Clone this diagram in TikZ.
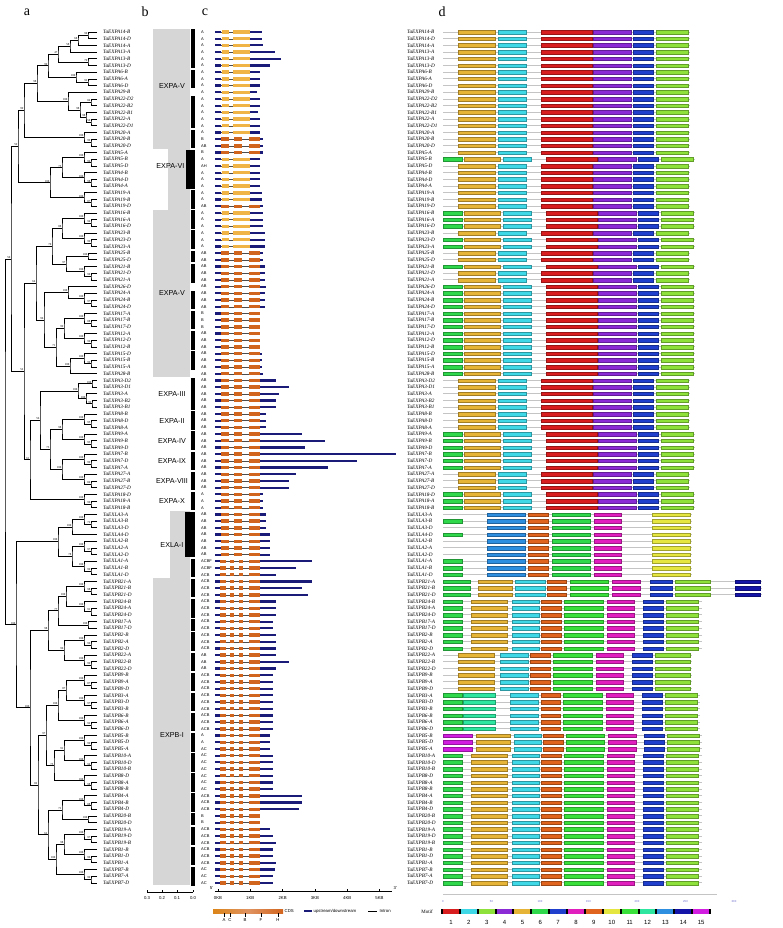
\documentclass[tikz,border=0pt]{standalone}
\usepackage{fontspec}
\setmainfont{Liberation Serif}
\setsansfont{Liberation Sans}
\usetikzlibrary{positioning, calc}
\definecolor{cone}{HTML}{D81E1E}
\definecolor{ctwo}{HTML}{3FD8E6}
\definecolor{cthree}{HTML}{8EE03A}
\definecolor{cfour}{HTML}{8A2BD6}
\definecolor{cfive}{HTML}{E6B436}
\definecolor{csix}{HTML}{2ED84A}
\definecolor{cseven}{HTML}{1F3FCC}
\definecolor{ceight}{HTML}{E01FBE}
\definecolor{cnine}{HTML}{E0641E}
\definecolor{cten}{HTML}{E6E640}
\definecolor{celeven}{HTML}{3AE03A}
\definecolor{ctwelve}{HTML}{2EE6A0}
\definecolor{cthirteen}{HTML}{2E8EE0}
\definecolor{cfourteen}{HTML}{1414A8}
\definecolor{cfifteen}{HTML}{D21EE0}
\definecolor{cdsgold}{HTML}{F0B446}
\definecolor{cdsorange}{HTML}{D2651E}
\definecolor{utrnavy}{HTML}{1A1A78}
\definecolor{groupgray}{HTML}{D6D6D6}
\definecolor{linegray}{HTML}{C4C4C4}
\definecolor{axisblue}{HTML}{6060C8}

\newcommand{\rowy}[1]{32+(#1-1)*6.7}
% clade: name, x, upper child, lower child, support
\newcommand{\clade}[5]{%
  \coordinate (tmp) at ($(#3)!0.5!(#4)$);
  \coordinate (#1) at (#2,0 |- tmp);
  \draw[branch] (#3) -| (#1) |- (#4);
  \node[boot, above left] at (#1) {#5};}

% gene structure templates (KB): colour/start/end
\def\gsa{cdsgold/0.12/0.33,cdsgold/0.47/1.0}
\def\gsea{1.0}
\def\gso{cdsorange/0.10/0.35,cdsorange/0.50/0.75,cdsorange/0.95/1.30}
\def\gseo{1.30}
\def\gsb{cdsorange/0.05/0.25,cdsorange/0.38/0.48,cdsorange/0.65/0.78,cdsorange/0.95/1.30}
\def\gseb{1.30}
% motif templates (px): colour/start/end
\def\tpla{cfive/458/495,ctwo/498/526,cone/541/592,cfour/593/631,cseven/633/653,cthree/656/688}
\def\enda{690}
\def\tplg{csix/443/462,cfive/464/500,ctwo/503/531,cone/546/597,cfour/598/636,cseven/638/658,cthree/661/693}
\def\endg{695}
\def\tpll{cthirteen/487/525,cnine/528/548,csix/552/590,ceight/594/621,cten/652/690}
\def\endl{692}
\def\tplm{csix/443/462,cthirteen/487/525,cnine/528/548,csix/552/590,ceight/594/621,cten/652/690}
\def\endm{692}
\def\tplb{csix/443/462,cfive/471/507,ctwo/512/539,cnine/541/561,celeven/564/603,ceight/607/634,cseven/643/663,cthree/666/698}
\def\endb{702}
\def\tplc{csix/443/470,cfive/478/512,ctwo/515/545,cnine/547/566,celeven/570/608,ceight/612/640,cseven/650/672,cthree/675/710,cfourteen/735/760}
\def\endc{762}
\def\tpln{cfive/458/494,ctwo/500/528,cnine/530/550,celeven/553/592,ceight/596/623,cseven/632/652,cthree/655/690}
\def\endn{692}
\def\tplt{csix/443/462,ctwelve/463/495,ctwo/510/538,cnine/541/560,celeven/563/602,ceight/606/633,cseven/642/662,cthree/665/697}
\def\endt{700}
\def\tplp{cfifteen/443/472,cfive/476/510,ctwo/514/541,cnine/543/563,celeven/566/604,ceight/608/636,cseven/644/664,cthree/667/699}
\def\endp{702}

\begin{document}
\begin{tikzpicture}[x=1pt, y=-1pt,
    branch/.style={line width=0.75pt, black},
    boot/.style={font=\fontsize{3}{3}\selectfont, inner sep=0.4pt},
    leafname/.style={font=\fontsize{5.2}{5.2}\selectfont\itshape, inner sep=0pt, anchor=west},
    letter/.style={font=\sffamily\fontsize{4}{4}\selectfont, inner sep=0pt, anchor=west},
    panel/.style={font=\fontsize{14}{14}\selectfont},
    grouplabel/.style={font=\sffamily\fontsize{7.2}{7.2}\selectfont, inner sep=0pt},
    groupbox/.style={fill=groupgray},
    famBar/.style={fill=black},
    intron/.style={line width=0.3pt, black!70},
    utr/.style={fill=utrnavy},
    motifline/.style={line width=0.9pt, linegray},
    ticklabel/.style={font=\sffamily\fontsize{4.3}{4.3}\selectfont, inner sep=0.5pt},
]
\useasboundingbox (0,0) rectangle (783,928);

\node[panel] (pa) at (27,12) {a};
\node[panel] (pb) at (145,12) {b};
\node[panel] (pc) at (205,12) {c};
\node[panel] (pd) at (442,12) {d};

% leaves
\foreach \i in {1,...,128} \coordinate (L\i) at (97,{\rowy{\i}});

% ---- tree, EXPA-V (top)
\clade{n1}{88}{L1}{L2}{90}
\clade{n2}{78}{n1}{L3}{68}
\clade{n3}{70}{n2}{L4}{58}
\clade{n4}{88}{L5}{L6}{79}
\clade{n5}{58}{n3}{n4}{47}
\clade{n6}{88}{L8}{L9}{92}
\clade{n7}{76}{L7}{n6}{100}
\clade{n8}{48}{n5}{n7}{99}
\clade{m1}{91}{L11}{L12}{84}
\clade{m2}{91}{L14}{L15}{50}
\clade{m3}{86}{L13}{m2}{98}
\clade{m4}{80}{m1}{m3}{98}
\clade{m5}{68}{L10}{m4}{100}
\clade{n9}{37}{n8}{m5}{98}
% triads: leaf + pair
\foreach \r/\ba/\bb in {16/100/99,19/100/96,22/100/98,25/100/87,28/100/94,31/100/99,36/100/90,40/100/97,43/100/88,46/100/96,49/100/99,58/100/95,61/100/93,64/100/99,67/100/84,70/100/96,73/100/72,77/100/97,80/100/99,83/100/98,86/100/91,91/100/96,94/100/99,97/100/87,100/100/97,103/100/92,106/100/99,109/100/94,112/100/98,115/100/88,120/100/97,123/100/96,126/100/99}{
  \pgfmathtruncatemacro\s{\r+1}
  \pgfmathtruncatemacro\t{\r+2}
  \clade{P\r}{91}{L\s}{L\t}{\bb}
  \clade{F\r}{84}{L\r}{P\r}{\ba}
}
\clade{F34}{88}{L34}{L35}{100}
\clade{F89}{88}{L89}{L90}{100}
\clade{F118}{88}{L118}{L119}{100}
\clade{n10}{24}{n9}{F16}{99}
% EXPA-VI
\clade{v1}{62}{F19}{F22}{75}
\clade{v2}{50}{v1}{F25}{100}
% EXPA-V (lower)
\clade{c1}{62}{F28}{F31}{88}
\clade{c2}{66}{F34}{F36}{97}
\clade{c3}{52}{c1}{c2}{70}
\clade{c4}{68}{L39}{F40}{100}
\clade{c5}{64}{F43}{F46}{99}
\clade{c6}{70}{F49}{L52}{100}
\clade{c7}{56}{c5}{c6}{71}
\clade{c8}{44}{c4}{c7}{96}
\clade{c9}{36}{c3}{c8}{64}
% EXPA-III ... EXPA-X
\clade{e1}{92}{L53}{L54}{100}
\clade{e2}{92}{L56}{L57}{99}
\clade{e3}{86}{L55}{e2}{100}
\clade{F53}{78}{e1}{e3}{100}
\clade{d1}{62}{F58}{F61}{98}
\clade{d2}{62}{F64}{F67}{100}
\clade{d3}{50}{d1}{d2}{73}
\clade{d4}{40}{F53}{d3}{56}
\clade{d5}{30}{d4}{F70}{61}
\clade{x1}{18}{n10}{v2}{59}
\clade{x2}{24}{c9}{d5}{52}
\clade{x3}{11}{x1}{x2}{50}
% EXLA
\clade{l1}{72}{F73}{L76}{100}
\clade{l2}{72}{F77}{F80}{78}
\clade{l3}{58}{l1}{l2}{100}
% EXPB
\clade{b1}{66}{F83}{F86}{100}
\clade{b2}{58}{b1}{F89}{77}
\clade{b3}{64}{F91}{F94}{96}
\clade{b4}{48}{b2}{b3}{98}
\clade{b5}{66}{F97}{F100}{87}
\clade{b6}{58}{b5}{F103}{100}
\clade{b7}{64}{F106}{F109}{91}
\clade{b8}{54}{b7}{F112}{75}
\clade{b9}{46}{b6}{b8}{97}
\clade{b10}{62}{F115}{F118}{71}
\clade{b11}{64}{F120}{F123}{98}
\clade{b12}{56}{b11}{F126}{100}
\clade{b13}{48}{b10}{b12}{62}
\clade{b14}{38}{b9}{b13}{82}
\clade{b15}{30}{b4}{b14}{100}
\clade{r2}{16}{l3}{b15}{100}
\clade{root}{5}{x3}{r2}{}

% ---- column b: groups
\fill[groupbox] (153,{\rowy{1}-3.4}) rectangle (190,{\rowy{18}+3.4});
\fill[groupbox] (168,{\rowy{19}-3.4}) rectangle (190,{\rowy{27}+3.4});
\fill[groupbox] (153,{\rowy{28}-3.4}) rectangle (190,{\rowy{52}+3.4});
\fill[groupbox] (170,{\rowy{73}-3.4}) rectangle (190,{\rowy{82}+3.4});
\fill[groupbox] (153,{\rowy{83}-3.4}) rectangle (190,885);
\node[grouplabel] (g1) at (172,{\rowy{9}}) {EXPA-V};
\node[grouplabel, anchor=east] (g2) at (184.5,{\rowy{21}}) {EXPA-VI};
\node[grouplabel] (g3) at (172,{\rowy{40}}) {EXPA-V};
\node[grouplabel] (g4) at (172,{\rowy{55}}) {EXPA-III};
\node[grouplabel] (g5) at (172,{\rowy{59}}) {EXPA-II};
\node[grouplabel] (g6) at (172,{\rowy{62}}) {EXPA-IV};
\node[grouplabel] (g7) at (172,{\rowy{65}}) {EXPA-IX};
\node[grouplabel] (g8) at (172,{\rowy{68}}) {EXPA-VIII};
\node[grouplabel] (g9) at (172,{\rowy{71}}) {EXPA-X};
\node[grouplabel, anchor=east] (g10) at (183.5,{\rowy{77.5}}) {EXLA-I};
\node[grouplabel] (g11) at (172,{\rowy{106}}) {EXPB-I};
\foreach \f/\l in {1/6,7/9,11/15,16/18,19/21,22/24,25/27,28/30,31/33,34/35,36/38,40/42,43/45,46/48,49/51,53/57,58/60,61/63,64/66,67/69,70/72,73/75,77/79,80/82,83/85,86/88,89/90,91/93,94/96,97/99,100/102,103/105,106/108,109/111,112/114,115/117,118/119,120/122,123/125,126/128}
  \fill[famBar] (191,{\rowy{\f}-2.6}) rectangle (195,{\rowy{\l}+2.6});
% wide bars
\fill[famBar] (186,{\rowy{19}-2.6}) rectangle (195,{\rowy{24}+2.6});
\fill[famBar] (185,{\rowy{73}-2.6}) rectangle (195,{\rowy{79}+2.6});

% ---- rows: names, structures, motifs
\foreach \i/\nm/\lt/\gs/\ln/\tp in {
1/TaEXPA14-B/A/a/1.35/a, 2/TaEXPA14-D/A/a/1.35/a, 3/TaEXPA14-A/A/a/1.4/a,
4/TaEXPA13-A/A/a/1.75/a, 5/TaEXPA13-B/A/a/1.95/a, 6/TaEXPA13-D/A/a/1.6/a,
7/TaEXPA6-B/A/a/1.3/a, 8/TaEXPA6-A/A/a/1.3/a, 9/TaEXPA6-D/A/a/1.3/a,
10/TaEXPA29-B/A/a/1.2/a, 11/TaEXPA22-D2/A/a/1.3/a, 12/TaEXPA22-B2/A/a/1.3/a,
13/TaEXPA22-B1/A/a/1.25/a, 14/TaEXPA22-A/A/a/1.3/a, 15/TaEXPA22-D1/A/a/1.3/a,
16/TaEXPA20-A/A/a/1.3/a, 17/TaEXPA20-B/B/o/1.4/a, 18/TaEXPA20-D/AB/o/1.4/a,
19/TaEXPA5-A/B/o/1.4/a, 20/TaEXPA5-B/A/a/1.3/g, 21/TaEXPA5-D/AH/a/1.3/a,
22/TaEXPA4-B/A/a/1.3/a, 23/TaEXPA4-D/A/a/1.3/a, 24/TaEXPA4-A/A/a/1.3/a,
25/TaEXPA19-A/A/a/1.35/a, 26/TaEXPA19-B/A/a/1.35/a, 27/TaEXPA19-D/AB/o/1.4/a,
28/TaEXPA16-B/A/a/1.4/g, 29/TaEXPA16-A/A/a/1.4/g, 30/TaEXPA16-D/A/a/1.4/g,
31/TaEXPA23-B/A/a/1.45/a, 32/TaEXPA23-D/A/a/1.45/g, 33/TaEXPA23-A/A/a/1.45/g,
34/TaEXPA25-B/AB/o/1.4/a, 35/TaEXPA25-D/AB/o/1.4/a, 36/TaEXPA21-B/AB/o/1.45/g,
37/TaEXPA21-D/AB/o/1.45/a, 38/TaEXPA21-A/AB/o/1.45/a, 39/TaEXPA26-D/AB/o/1.5/g,
40/TaEXPA24-A/AB/o/1.45/g, 41/TaEXPA24-B/AB/o/1.45/g, 42/TaEXPA24-D/AB/o/1.45/g,
43/TaEXPA17-A/B/o/1.3/g, 44/TaEXPA17-B/B/o/1.3/g, 45/TaEXPA17-D/B/o/1.3/g,
46/TaEXPA12-A/AB/o/1.3/g, 47/TaEXPA12-D/AB/o/1.3/g, 48/TaEXPA12-B/AB/o/1.3/g,
49/TaEXPA15-D/AB/o/1.35/g, 50/TaEXPA15-B/AB/o/1.35/g, 51/TaEXPA15-A/AB/o/1.35/g,
52/TaEXPA28-B/AB/o/1.4/g, 53/TaEXPA3-D2/AB/o/1.8/a, 54/TaEXPA3-D1/AB/o/2.2/a,
55/TaEXPA3-A/AB/o/1.9/a, 56/TaEXPA3-B2/AB/o/1.8/a, 57/TaEXPA3-B1/AB/o/1.8/a,
58/TaEXPA8-B/AB/o/1.5/a, 59/TaEXPA8-D/AB/o/1.5/a, 60/TaEXPA8-A/AB/o/1.5/a,
61/TaEXPA9-A/AB/o/2.6/g, 62/TaEXPA9-B/AB/o/3.3/g, 63/TaEXPA9-D/AB/o/2.7/g,
64/TaEXPA7-B/AB/o/5.5/g, 65/TaEXPA7-D/AB/o/4.3/g, 66/TaEXPA7-A/AB/o/3.4/g,
67/TaEXPA27-A/AB/o/2.4/a, 68/TaEXPA27-B/AB/o/2.2/a, 69/TaEXPA27-D/AB/o/2.2/a,
70/TaEXPA18-D/A/o/1.4/g, 71/TaEXPA18-A/A/o/1.4/g, 72/TaEXPA18-B/A/o/1.4/g,
73/TaEXLA3-A/AB/o/1.5/l, 74/TaEXLA3-B/AB/o/1.5/m, 75/TaEXLA3-D/AB/o/1.5/l,
76/TaEXLA4-D/AB/o/1.6/m, 77/TaEXLA2-B/AB/o/1.6/l, 78/TaEXLA2-A/AB/o/1.6/l,
79/TaEXLA2-D/AB/o/1.6/l, 80/TaEXLA1-A/ACBF/b/2.9/m, 81/TaEXLA1-B/ACBF/b/2.4/m,
82/TaEXLA1-D/ACB/b/1.8/m, 83/TaEXPB21-A/ACB/b/2.9/c, 84/TaEXPB21-B/ACB/b/2.6/c,
85/TaEXPB21-D/ACB/b/2.8/c, 86/TaEXPB24-B/ACB/b/1.8/b, 87/TaEXPB24-A/ACB/b/1.8/b,
88/TaEXPB24-D/ACB/b/1.8/b, 89/TaEXPB17-A/ACB/b/1.7/b, 90/TaEXPB17-D/ACB/b/1.7/b,
91/TaEXPB2-B/ACB/b/1.8/b, 92/TaEXPB2-A/ACB/b/1.8/b, 93/TaEXPB2-D/ACB/b/1.8/b,
94/TaEXPB22-A/AB/b/1.8/n, 95/TaEXPB22-B/AB/b/2.2/n, 96/TaEXPB22-D/AB/b/1.8/n,
97/TaEXPB9-B/ACB/b/1.7/n, 98/TaEXPB9-A/ACB/b/1.7/n, 99/TaEXPB9-D/ACB/b/1.7/n,
100/TaEXPB3-A/ACB/b/1.7/t, 101/TaEXPB3-D/ACB/b/1.7/t, 102/TaEXPB3-B/ACB/b/1.7/t,
103/TaEXPB6-B/ACB/b/1.7/t, 104/TaEXPB6-A/ACB/b/1.7/t, 105/TaEXPB6-D/ACB/b/1.7/t,
106/TaEXPB5-B/A/b/1.6/p, 107/TaEXPB5-D/A/b/1.6/p, 108/TaEXPB5-A/AC/b/1.6/p,
109/TaEXPB10-A/AC/b/1.7/b, 110/TaEXPB10-D/AC/b/1.7/b, 111/TaEXPB10-B/AC/b/1.7/b,
112/TaEXPB8-D/AC/b/1.7/b, 113/TaEXPB8-A/AC/b/1.7/b, 114/TaEXPB8-B/AC/b/1.7/b,
115/TaEXPB4-A/ACB/b/2.6/b, 116/TaEXPB4-B/ACB/b/2.6/b, 117/TaEXPB4-D/ACB/b/2.5/b,
118/TaEXPB20-B/B/b/1.3/b, 119/TaEXPB20-D/B/b/1.3/b, 120/TaEXPB19-A/ACB/b/1.6/b,
121/TaEXPB19-D/ACB/b/1.7/b, 122/TaEXPB19-B/ACB/b/1.8/b, 123/TaEXPB1-B/ACB/b/1.7/b,
124/TaEXPB1-D/ACB/b/1.7/b, 125/TaEXPB1-A/ACB/b/1.8/b, 126/TaEXPB7-B/AC/b/1.75/b,
127/TaEXPB7-A/AC/b/1.7/b, 128/TaEXPB7-D/AC/b/1.7/b}{
  \pgfmathsetmacro\yy{\rowy{\i}}
  \node[leafname] (na\i) at (103,\yy) {\nm};
  \node[letter] (lt\i) at (201,\yy) {\lt};
  % gene structure
  \expandafter\let\expandafter\curgs\csname gs\gs\endcsname
  \expandafter\let\expandafter\gse\csname gse\gs\endcsname
  \draw[intron] (215.4,\yy) -- ({218+\ln*32.3},\yy);
  \fill[utr] (215.4,\yy-1.1) rectangle ({218+0.1*32.3},\yy+1.1);
  \fill[utr] ({218+\gse*32.3},\yy-1.1) rectangle ({218+\ln*32.3},\yy+1.1);
  \foreach \c/\a/\b in \curgs
    \fill[\c] ({218+\a*32.3},\yy-1.7) rectangle ({218+\b*32.3},\yy+1.7);
  % motifs
  \node[leafname] (nd\i) at (407,\yy) {\nm};
  \expandafter\let\expandafter\curtpl\csname tpl\tp\endcsname
  \expandafter\let\expandafter\curend\csname end\tp\endcsname
  \draw[motifline] (443,\yy) -- (\curend,\yy);
  \foreach \c/\a/\b in \curtpl
    \filldraw[fill=\c, draw=\c!70!black, line width=0.3pt] (\a,\yy-1.75) rectangle (\b,\yy+1.75);
}

% ---- scales
\draw[line width=0.5pt] (147,892) -- (193,892);
\foreach \v/\x in {0.3/147,0.2/162,0.1/177,0.0/193}{
  \draw[line width=0.4pt] (\x,892) -- (\x,890);
  \node[ticklabel] at (\x,898) {\v};}
\draw[line width=0.6pt] (215,891) -- (392,891);
\node[ticklabel, anchor=east] (five) at (214,888) {5'};
\node[ticklabel, anchor=west] (three) at (393,888) {3'};
\foreach \k in {0,...,5}{
  \draw[line width=0.4pt] ({218+\k*32.3},891) -- ({218+\k*32.3},889);
  \node[ticklabel] at ({218+\k*32.3},898) {\k KB};}
% legend of structures
\shade[left color=cdsorange!80!yellow, right color=cdsorange, middle color=cdsorange!70!white] (213,909) rectangle (283,913);
\node[ticklabel, anchor=west] (cds) at (284,911) {CDS};
\foreach \m/\x in {A/224,C/230,B/245,F/261,H/278}{
  \draw[line width=0.3pt] (\x,913) -- (\x,916.5);
  \node[ticklabel] at (\x,920) {\m};}
\fill[utrnavy] (304,910) rectangle (312,912.4);
\node[ticklabel, anchor=west] (updown) at (313,911) {upstream/downstream};
\draw[line width=0.4pt] (368,911) -- (377,911);
\node[ticklabel, anchor=west] (intr) at (379,911) {Intron};
% motif axis and legend
\draw[line width=0.5pt, linegray] (443,894) -- (717,894);
\foreach \v in {0,50,100,150,200,250,300}
  \node[font=\sffamily\fontsize{2.8}{2.8}\selectfont, text=axisblue, inner sep=0pt] at ({443+\v*0.97},902) {\v};
\node[font=\fontsize{5}{5}\selectfont, inner sep=0pt] (motif) at (427,912) {Motif};
\fill[black] (441,909) rectangle (711,914);
\foreach \c [count=\n] in {cone,ctwo,cthree,cfour,cfive,csix,cseven,ceight,cnine,cten,celeven,ctwelve,cthirteen,cfourteen,cfifteen}{
  \fill[\c] ({442+(\n-1)*17.87+1},909.4) rectangle ({442+\n*17.87-1},913.6);
  \node[font=\sffamily\fontsize{6}{6}\selectfont, inner sep=0pt] (mk\n) at ({442+(\n-0.5)*17.87},922) {\n};}
\end{tikzpicture}
\end{document}
